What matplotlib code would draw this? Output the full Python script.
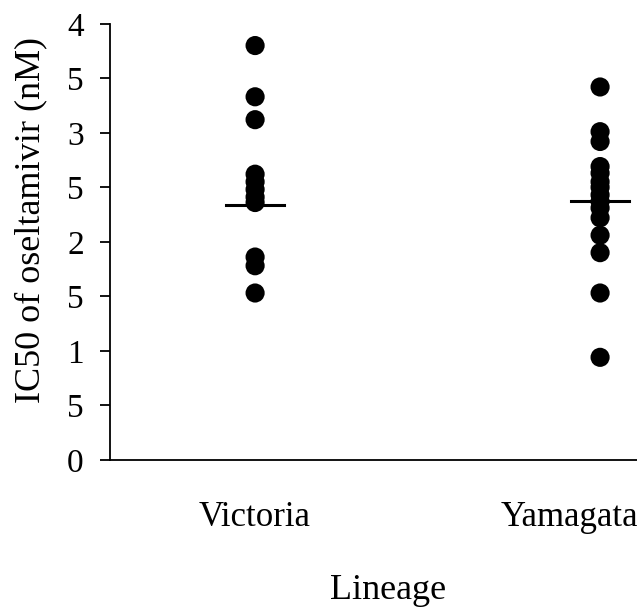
import matplotlib
matplotlib.use("Agg")
import matplotlib.pyplot as plt
import matplotlib.transforms as mtransforms

plt.rcParams['font.family'] = ['Liberation Serif', 'DejaVu Serif']

categories = ["Victoria", "Yamagata"]
victoria = [3.80, 3.33, 3.12, 2.62, 2.55, 2.48, 2.41, 2.36, 1.86, 1.78, 1.53]
yamagata = [3.42, 3.01, 2.92, 2.69, 2.63, 2.55, 2.50, 2.43, 2.37, 2.31, 2.22,
            2.06, 1.90, 1.53, 0.94]
medians = [2.34, 2.37]
ytick_values = [0, 0.5, 1, 1.5, 2, 2.5, 3, 3.5, 4]
ytick_labels = ["0", "5", "1", "5", "2", "5", "3", "5", "4"]

fig = plt.figure(figsize=(6.37, 6.09), dpi=100)
ax = fig.add_axes([0.173, 0.245, 0.827, 0.716])

series = [victoria, yamagata]
for i, vals in enumerate(series):
    x = i + 1
    ax.scatter([x] * len(vals), vals, s=190, color='black', zorder=3,
               edgecolors='none')
    ax.plot([x - 0.085, x + 0.085], [medians[i], medians[i]], color='black',
            lw=2.2, zorder=4)

ax.set_xlim(0.58, 2.107)
ax.set_ylim(0, 4)
ax.set_yticks(ytick_values)
ax.set_yticklabels(ytick_labels, fontsize=24)
ax.tick_params(axis='y', direction='out', length=7, width=1.3, pad=12)
ax.set_xticks([1, 2])
ax.set_xticklabels(categories, fontsize=25)
ax.tick_params(axis='x', length=0, pad=30)

# Shift Yamagata label left so it fits in figure
lbls = ax.get_xticklabels()
offset = mtransforms.ScaledTranslation(-31 / 100, 0, fig.dpi_scale_trans)
lbls[1].set_transform(lbls[1].get_transform() + offset)

for s in ['top', 'right']:
    ax.spines[s].set_visible(False)
ax.spines['left'].set_linewidth(1.3)
ax.spines['bottom'].set_linewidth(1.3)

ax.set_ylabel("IC50 of oseltamivir (nM)", fontsize=26)
ax.yaxis.set_label_coords(-0.12, 0.55)
ax.set_xlabel("Lineage", fontsize=26)
ax.xaxis.set_label_coords((388 - 110) / 527, -0.262)

fig.savefig("out.png", dpi=100)
